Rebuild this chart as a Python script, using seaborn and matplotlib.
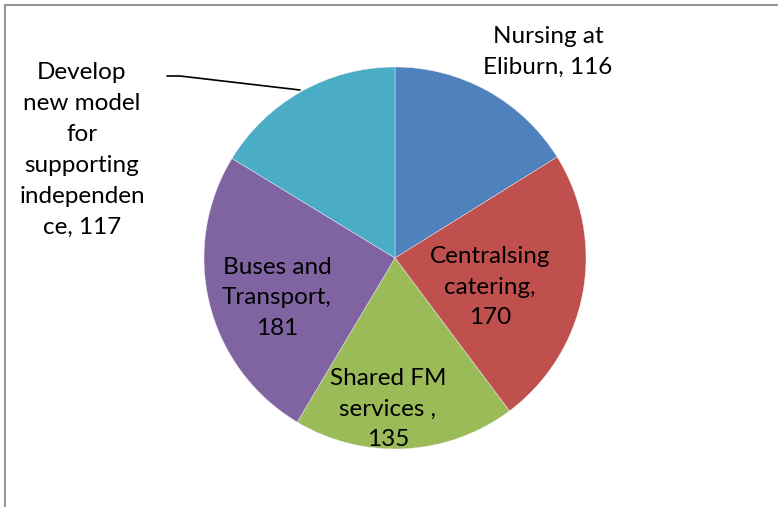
import matplotlib
matplotlib.use("Agg")
import matplotlib.pyplot as plt
from matplotlib.patches import Rectangle
import seaborn as sns

categories = ["Nursing at\nEliburn", "Centralsing\ncatering,", "Shared FM\nservices ,",
              "Buses and\nTransport,", "Develop\nnew model\nfor\nsupporting\nindependen\nce,"]
values = [116, 170, 135, 181, 117]
label_text = ["Nursing at\nEliburn, 116", "Centralsing\ncatering,\n170", "Shared FM\nservices ,\n135",
              "Buses and\nTransport,\n181", "Develop\nnew model\nfor\nsupporting\nindependen\nce, 117"]
colors = ["#4F81BD", "#C0504D", "#9BBB59", "#8064A2", "#4BACC6"]

sns.set_theme(style="white")
plt.rcParams['font.family'] = ['Lato', 'DejaVu Sans']

W, H = 778, 507
fig = plt.figure(figsize=(W / 100, H / 100), dpi=100)
ax = fig.add_axes([0, 0, 1, 1])

cx, cy, r = 395, H - 258, 191
ax.pie(values, colors=colors, startangle=90, counterclock=False,
       center=(cx, cy), radius=r, frame=True,
       wedgeprops=dict(linewidth=0.3, edgecolor="#f0f0f0"))
ax.set_xlim(0, W)
ax.set_ylim(0, H)
ax.set_aspect("equal")
ax.axis("off")

pos = [(548, 52), (490, 287), (388, 409), (277, 298), (82, 150)]
for (px, py), t in zip(pos, label_text):
    ax.text(px, H - py, t, ha="center", va="center", fontsize=17.5,
            linespacing=1.58, color="black")

# leader line for the last label
ax.plot([167, 180, 300], [H - 76, H - 76, H - 90], color="black", lw=1.2)

fig.patches.append(Rectangle((5 / W, -0.1), 1.2, (H - 5) / H + 0.1,
                             transform=fig.transFigure, fill=False,
                             edgecolor="#969696", linewidth=1.5))

fig.savefig("out.png", dpi=100)
